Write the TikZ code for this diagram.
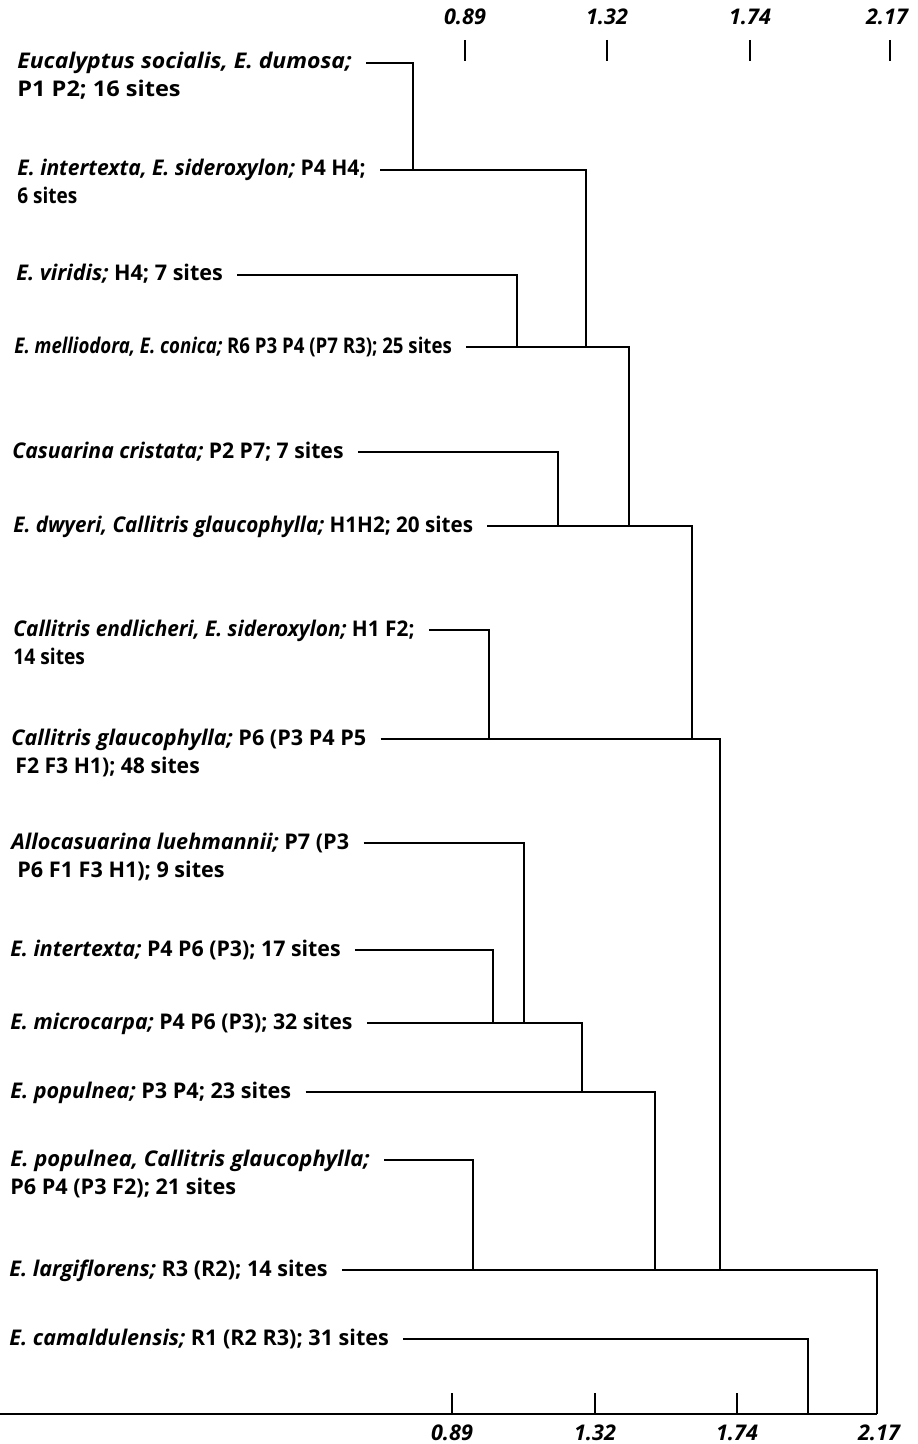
\documentclass[tikz,border=0pt]{standalone}
\usepackage{graphicx}
\usepackage{fontspec}
\setmainfont{Open Sans}
\newcommand{\sxb}[2]{\scalebox{#1}[1]{#2}}
\begin{document}
\begin{tikzpicture}[x=0.5pt,y=-0.5pt,
  lbl/.style={anchor=base west, inner sep=0pt, font=\fontsize{10.8}{13}\selectfont\bfseries},
  num/.style={anchor=base, inner sep=0pt, font=\fontsize{10.8}{13}\selectfont\bfseries\itshape},
  br/.style={line width=1.35pt},
  tck/.style={line width=1pt},
  gap/.style={xshift=7pt, yshift=3pt}]
\useasboundingbox (0,0) rectangle (917,1444);

% top scale
\node[num] (t1) at (465,25) {0.89};
\node[num] (t2) at (607,25) {1.32};
\node[num] (t3) at (750,25) {1.74};
\node[num] (t4) at (887,25) {2.17};
\foreach \n/\x in {t1/465,t2/607,t3/750,t4/890}{
  \coordinate (\n a) at (\x,40);
  \coordinate (\n b) at (\x,61);
  \draw[tck] (\n a) -- (\n b);
}

% leaf labels
\node[lbl] (a1) at (17,69) {\sxb{1.064}{\textit{Eucalyptus socialis, E. dumosa;}}};
\node[lbl] (a1b) at (17,97) {\sxb{1.09}{P1 P2; 16 sites}};
\node[lbl] (a2) at (17,176) {\sxb{0.975}{\textit{E. intertexta, E. sideroxylon;} P4 H4;}};
\node[lbl] (a2b) at (17,204) {\sxb{0.88}{6 sites}};
\node[lbl] (a3) at (16,281) {\textit{E. viridis;} H4; 7 sites};
\node[lbl] (a4) at (14,353) {\sxb{0.863}{\textit{E. melliodora, E. conica;} R6 P3 P4 (P7 R3); 25 sites}};
\node[lbl] (a5) at (12,458) {\sxb{0.98}{\textit{Casuarina cristata;} P2 P7; 7 sites}};
\node[lbl] (a6) at (13,532) {\sxb{0.956}{\textit{E. dwyeri, Callitris glaucophylla;} H1H2; 20 sites}};
\node[lbl] (a7) at (13,636) {\sxb{0.964}{\textit{Callitris endlicheri, E. sideroxylon;} H1 F2;}};
\node[lbl] (a7b) at (13,664) {\sxb{0.89}{14 sites}};
\node[lbl] (a8) at (11,745) {\textit{Callitris glaucophylla;} P6 (P3 P4 P5};
\node[lbl] (a8b) at (15,773) {\sxb{0.98}{F2 F3 H1); 48 sites}};
\node[lbl] (a9) at (11,849) {\textit{Allocasuarina luehmannii;} P7 (P3};
\node[lbl] (a9b) at (17,877) {P6 F1 F3 H1); 9 sites};
\node[lbl] (a10) at (10,956) {\sxb{0.988}{\textit{E. intertexta;} P4 P6 (P3); 17 sites}};
\node[lbl] (a11) at (10,1029) {\sxb{0.986}{\textit{E. microcarpa;} P4 P6 (P3); 32 sites}};
\node[lbl] (a12) at (10,1098) {\textit{E. populnea;} P3 P4; 23 sites};
\node[lbl] (a13) at (10,1166) {\sxb{1.02}{\textit{E. populnea, Callitris glaucophylla;}}};
\node[lbl] (a13b) at (10,1194) {P6 P4 (P3 F2); 21 sites};
\node[lbl] (a14) at (9,1276) {\textit{E. largiflorens;} R3 (R2); 14 sites};
\node[lbl] (a15) at (9,1345) {\textit{E. camaldulensis;} R1 (R2 R3); 31 sites};

% join points
\coordinate (j1) at (413,170);
\coordinate (j2) at (586,347);
\coordinate (j3) at (517,347);
\coordinate (j4) at (629,526);
\coordinate (j5) at (558,526);
\coordinate (j6) at (692,739);
\coordinate (j7) at (489,739);
\coordinate (j8) at (720,1270);
\coordinate (j9) at (524,1023);
\coordinate (j10) at (493,1023);
\coordinate (j11) at (582,1092);
\coordinate (j12) at (655,1270);
\coordinate (j13) at (473,1270);
\coordinate (j14) at (877,1414);
\coordinate (j15) at (808,1414);
\coordinate (ax0) at (0,1414);

% dendrogram
\foreach \i in {1,...,15}{
  \draw[br] ([gap]a\i.base east) -| (j\i);
}
\draw[br] (ax0) -- (j14);

% bottom scale
\node[num] (b1) at (452,1440) {0.89};
\node[num] (b2) at (595,1440) {1.32};
\node[num] (b3) at (737,1440) {1.74};
\node[num] (b4) at (879,1440) {2.17};
\foreach \n/\x in {b1/452,b2/595,b3/737}{
  \coordinate (\n a) at (\x,1393);
  \draw[tck] (\n a) -- (\n a |- ax0);
}
\end{tikzpicture}
\end{document}
